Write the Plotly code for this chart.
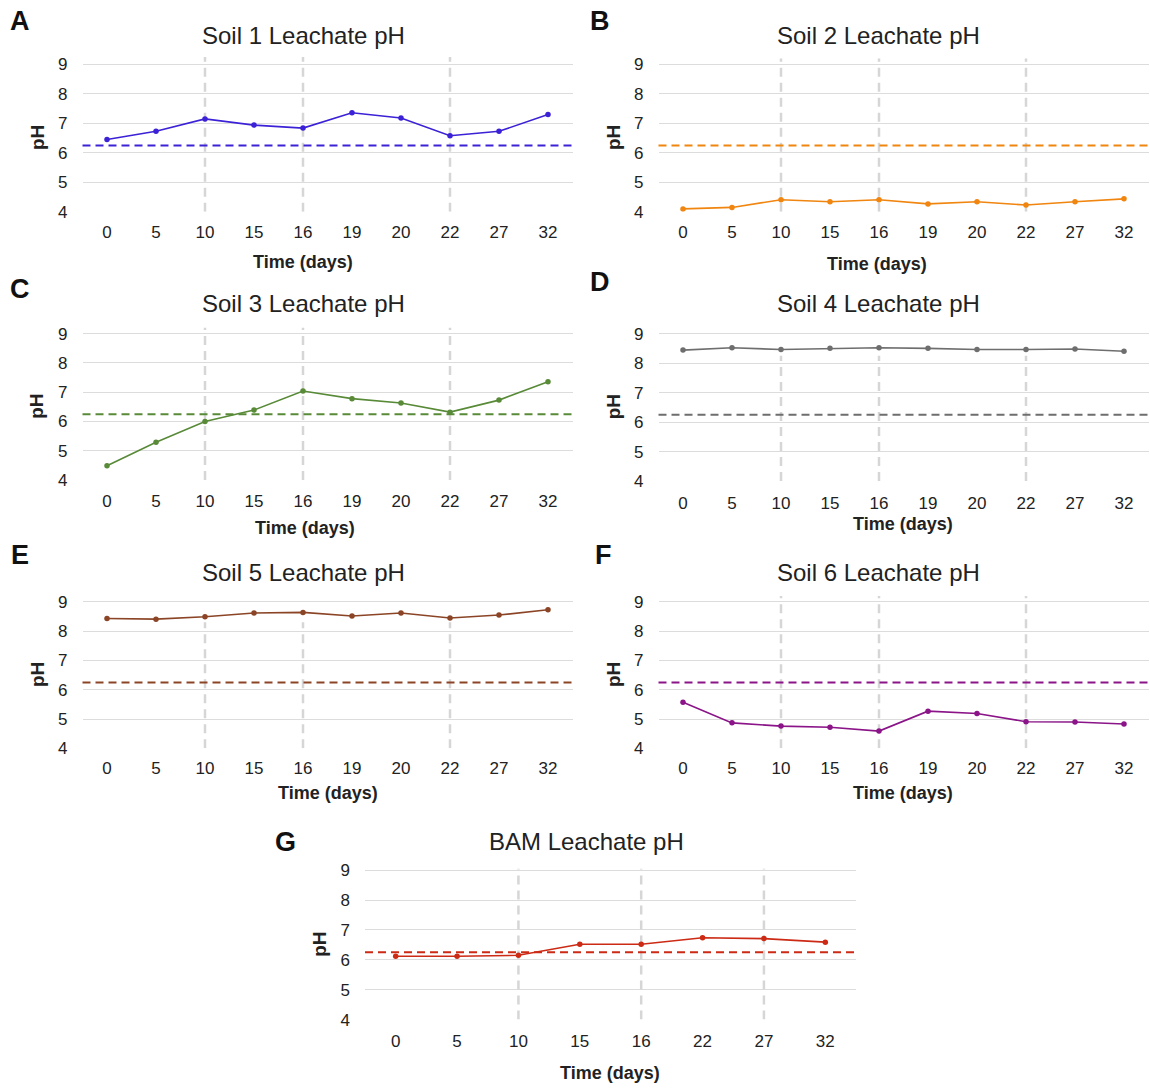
import plotly.graph_objects as go

# Sampling days (categorical x axis) and leachate pH readings
soil_days = ["0", "5", "10", "15", "16", "19", "20", "22", "27", "32"]
bam_days = ["0", "5", "10", "15", "16", "22", "27", "32"]

soil1_ph = [6.45, 6.73, 7.15, 6.94, 6.84, 7.36, 7.18, 6.58, 6.73, 7.30]
soil2_ph = [4.10, 4.15, 4.41, 4.34, 4.41, 4.27, 4.34, 4.23, 4.34, 4.44]
soil3_ph = [4.49, 5.29, 6.00, 6.39, 7.04, 6.78, 6.63, 6.32, 6.73, 7.36]
soil4_ph = [8.44, 8.52, 8.46, 8.50, 8.52, 8.50, 8.46, 8.46, 8.48, 8.40]
soil5_ph = [8.43, 8.41, 8.49, 8.62, 8.64, 8.52, 8.62, 8.45, 8.55, 8.73]
soil6_ph = [5.57, 4.87, 4.76, 4.72, 4.59, 5.27, 5.19, 4.91, 4.90, 4.83]
bam_ph = [6.12, 6.12, 6.15, 6.52, 6.52, 6.74, 6.71, 6.59]

reference_ph = 6.25

soil_events = ["10", "16", "22"]
bam_events = ["10", "16", "27"]

W, H = 1150, 1088
FONT = "Liberation Sans, Arial, sans-serif"

# (letter, title, days, values, colour, events, event line top,
#  plot left px, plot right px, px of pH 9, px of pH 4,
#  x-title centre, x-title y, tick label standoff)
panels = [
    ("A", "Soil 1 Leachate pH", soil_days, soil1_ph, "#3b22d6", soil_events, 9.25,
     82.5, 572.5, 64, 213, 303, 264, 8),
    ("B", "Soil 2 Leachate pH", soil_days, soil2_ph, "#f0850f", soil_events, 9.2,
     658.5, 1148.5, 64, 213, 877, 266, 8),
    ("C", "Soil 3 Leachate pH", soil_days, soil3_ph, "#588a38", soil_events, 9.2,
     82.5, 572.5, 336, 484, 305, 532, 9),
    ("D", "Soil 4 Leachate pH", soil_days, soil4_ph, "#6e6e6e", soil_events, 8.25,
     658.5, 1148.5, 336, 485, 903, 528, 10),
    ("E", "Soil 5 Leachate pH", soil_days, soil5_ph, "#8b4526", soil_events, 8.3,
     82.5, 572.5, 607, 755, 328, 800, 8),
    ("F", "Soil 6 Leachate pH", soil_days, soil6_ph, "#8a1488", soil_events, 9.2,
     658.5, 1148.5, 607, 755, 903, 800, 8),
    ("G", "BAM Leachate pH", bam_days, bam_ph, "#cc2a14", bam_events, 9.05,
     365.0, 856.0, 878, 1029, 610, 1083, 9),
]
letter_pos = {"A": (20, 20), "B": (600, 20), "C": (20, 291), "D": (600, 284),
              "E": (20, 560), "F": (603, 560), "G": (285, 850)}
title_pos = {"A": (303, 35), "B": (878, 35), "C": (303, 306), "D": (878, 306),
             "E": (303, 577), "F": (878, 577), "G": (586, 849)}
ylabel_x = {"A": 37, "B": 613, "C": 37, "D": 613, "E": 37, "F": 613, "G": 320}

Y_TOP = 9.27

fig = go.Figure()
layout = dict(width=W, height=H, margin=dict(l=0, r=0, t=0, b=0),
              paper_bgcolor="white", plot_bgcolor="white", showlegend=False,
              font=dict(family=FONT, color="#222222"))
annotations = []
shapes = []

for i, (letter, title, days, vals, color, events, ev_top,
        left, right, y9, y4, xt_cx, xt_y, standoff) in enumerate(panels):
    n = i + 1
    xa = "x" if n == 1 else f"x{n}"
    ya = "y" if n == 1 else f"y{n}"
    px_per = (y4 - y9) / 5.0
    top_px = y9 - (Y_TOP - 9) * px_per

    layout[f"xaxis{'' if n == 1 else n}"] = dict(
        domain=[left / W, right / W], anchor=ya, type="category",
        categoryorder="array", categoryarray=days,
        range=[-0.5, len(days) - 0.5], showgrid=False, zeroline=False,
        showline=False, ticks="", fixedrange=True, ticklabelstandoff=standoff,
        tickfont=dict(family=FONT, size=17, color="#222222"),
    )
    layout[f"yaxis{'' if n == 1 else n}"] = dict(
        domain=[1 - y4 / H, 1 - top_px / H], anchor=xa,
        range=[4, Y_TOP], tickvals=[4, 5, 6, 7, 8, 9],
        showgrid=True, gridcolor="#dcdcdc", gridwidth=1, zeroline=False,
        showline=False, ticks="", ticklabelstandoff=14,
        tickfont=dict(family=FONT, size=17, color="#222222"),
    )

    # treatment event markers
    for ev in events:
        fig.add_trace(go.Scatter(
            x=[ev, ev], y=[4, ev_top], mode="lines", xaxis=xa, yaxis=ya,
            line=dict(color="#d6d6d6", width=2.5, dash="9px,6px"),
            hoverinfo="skip"))

    # reference pH line
    shapes.append(dict(type="line", xref=f"{xa} domain", yref=ya,
                       x0=0, x1=1, y0=reference_ph, y1=reference_ph,
                       line=dict(color=color, width=2, dash="8px,5px"),
                       layer="above"))

    fig.add_trace(go.Scatter(
        x=days, y=vals, mode="lines+markers", xaxis=xa, yaxis=ya,
        line=dict(color=color, width=1.6),
        marker=dict(color=color, size=5.5), name=title))

    lx, ly = letter_pos[letter]
    annotations.append(dict(text=f"<b>{letter}</b>", x=lx / W, y=1 - ly / H,
                            xref="paper", yref="paper", showarrow=False,
                            xanchor="center", yanchor="middle",
                            font=dict(family=FONT, size=27, color="#111111")))
    tx, ty = title_pos[letter]
    annotations.append(dict(text=title, x=tx / W, y=1 - ty / H,
                            xref="paper", yref="paper", showarrow=False,
                            xanchor="center", yanchor="middle",
                            font=dict(family=FONT, size=24, color="#222222")))
    annotations.append(dict(text="<b>Time (days)</b>", x=xt_cx / W, y=1 - xt_y / H,
                            xref="paper", yref="paper", showarrow=False,
                            xanchor="center", yanchor="middle",
                            font=dict(family=FONT, size=18, color="#222222")))
    annotations.append(dict(text="<b>pH</b>", x=ylabel_x[letter] / W,
                            y=1 - ((y9 + y4) / 2) / H,
                            xref="paper", yref="paper", showarrow=False,
                            textangle=-90, xanchor="center", yanchor="middle",
                            font=dict(family=FONT, size=19, color="#222222")))

layout["annotations"] = annotations
layout["shapes"] = shapes
fig.update_layout(**layout)

fig.write_html("out.html")
